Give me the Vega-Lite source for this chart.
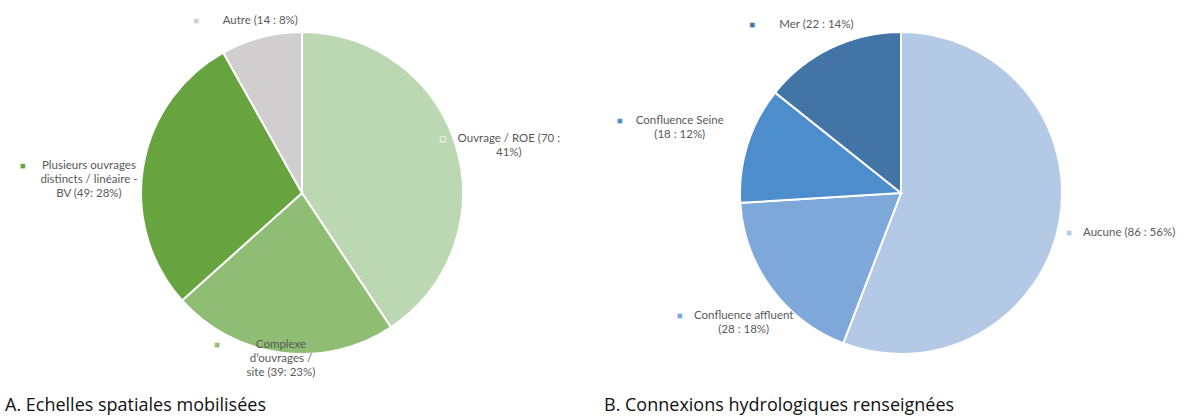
{
  "$schema": "https://vega.github.io/schema/vega-lite/v6.json",
  "background": "white",
  "padding": 5,
  "spacing": 5,
  "resolve": {"scale": {"color": "independent", "theta": "independent"}},
  "config": {
    "view": {"stroke": null},
    "title": {"font": "Open Sans", "fontSize": 18, "fontWeight": "normal", "color": "#111111", "orient": "bottom", "anchor": "start", "offset": 16},
    "text": {"font": "Lato", "fontSize": 11.5, "lineHeight": 14}
  },
  "datasets": {
    "a": [
      {"cat": "Ouvrage / ROE", "n": 70, "ord": 1, "label": "Ouvrage / ROE (70 :\n41%)"},
      {"cat": "Complexe d'ouvrages / site", "n": 39, "ord": 2, "label": "Complexe\nd’ouvrages /\nsite (39: 23%)"},
      {"cat": "Plusieurs ouvrages distincts / linéaire - BV", "n": 49, "ord": 3, "label": "Plusieurs ouvrages\ndistincts / linéaire -\nBV (49: 28%)"},
      {"cat": "Autre", "n": 14, "ord": 4, "label": "Autre (14 : 8%)"}
    ],
    "b": [
      {"cat": "Aucune", "n": 86, "ord": 1, "label": "Aucune (86 : 56%)"},
      {"cat": "Confluence affluent", "n": 28, "ord": 2, "label": "Confluence affluent\n(28 : 18%)"},
      {"cat": "Confluence Seine", "n": 18, "ord": 3, "label": "Confluence Seine\n(18 : 12%)"},
      {"cat": "Mer", "n": 22, "ord": 4, "label": "Mer (22 : 14%)"}
    ]
  },
  "hconcat": [
    {
      "width": 594,
      "height": 376,
      "data": {"name": "a"},
      "title": {"text": "A. Echelles spatiales mobilisées"},
      "encoding": {
        "theta": {"field": "n", "type": "quantitative", "stack": true},
        "order": {"field": "ord", "type": "quantitative"},
        "color": {
          "field": "cat",
          "type": "nominal",
          "scale": {
            "domain": ["Ouvrage / ROE", "Complexe d'ouvrages / site", "Plusieurs ouvrages distincts / linéaire - BV", "Autre"],
            "range": ["#bcd8b2", "#8fbd74", "#67a33f", "#d0cece"]
          },
          "legend": null
        }
      },
      "layer": [
        {"mark": {"type": "arc", "outerRadius": 161, "stroke": "white", "strokeWidth": 2}},
        {
          "mark": {"type": "text", "clip": true, "radius": 216, "dy": 8, "lineBreak": "\n", "align": "center", "baseline": "middle"},
          "encoding": {
            "text": {"condition": {"test": "datum.ord == 1 || datum.ord == 3", "field": "label"}, "value": ""},
            "color": {"value": "#595959"}
          }
        },
        {
          "mark": {"type": "text", "clip": true, "radius": 216, "dy": 8, "dx": -66, "text": "■", "font": "DejaVu Sans", "fontSize": 7, "stroke": "white", "strokeWidth": 0.6},
          "encoding": {
            "opacity": {"condition": {"test": "datum.ord == 1 || datum.ord == 3", "value": 1}, "value": 0}
          }
        },
        {
          "mark": {"type": "text", "clip": true, "radius": 165, "dy": -12, "lineBreak": "\n", "align": "center", "baseline": "middle"},
          "encoding": {
            "text": {"condition": {"test": "datum.ord == 2 || datum.ord == 4", "field": "label"}, "value": ""},
            "color": {"value": "#595959"}
          }
        },
        {
          "mark": {"type": "text", "clip": true, "radius": 165, "dy": -12, "dx": -64, "text": "■", "font": "DejaVu Sans", "fontSize": 7, "stroke": "white", "strokeWidth": 0.6},
          "encoding": {
            "opacity": {"condition": {"test": "datum.ord == 2 || datum.ord == 4", "value": 1}, "value": 0}
          }
        }
      ]
    },
    {
      "width": 594,
      "height": 376,
      "data": {"name": "b"},
      "title": {"text": "B. Connexions hydrologiques renseignées"},
      "encoding": {
        "theta": {"field": "n", "type": "quantitative", "stack": true},
        "order": {"field": "ord", "type": "quantitative"},
        "color": {
          "field": "cat",
          "type": "nominal",
          "scale": {
            "domain": ["Aucune", "Confluence affluent", "Confluence Seine", "Mer"],
            "range": ["#b4c9e6", "#7ea8da", "#4d8dcc", "#4275a5"]
          },
          "legend": null
        }
      },
      "layer": [
        {"mark": {"type": "arc", "outerRadius": 161, "stroke": "white", "strokeWidth": 2}},
        {
          "mark": {"type": "text", "clip": true, "radius": 232, "dy": -2, "lineBreak": "\n", "align": "center", "baseline": "middle"},
          "encoding": {
            "text": {"condition": {"test": "datum.ord == 1 || datum.ord == 3", "field": "label"}, "value": ""},
            "color": {"value": "#595959"}
          }
        },
        {
          "mark": {"type": "text", "clip": true, "radius": 232, "dy": -2, "dx": -60, "text": "■", "font": "DejaVu Sans", "fontSize": 7, "stroke": "white", "strokeWidth": 0.6},
          "encoding": {
            "opacity": {"condition": {"test": "datum.ord == 1 || datum.ord == 3", "value": 1}, "value": 0}
          }
        },
        {
          "mark": {"type": "text", "clip": true, "radius": 195, "dy": 8, "lineBreak": "\n", "align": "center", "baseline": "middle"},
          "encoding": {
            "text": {"condition": {"test": "datum.ord == 2 || datum.ord == 4", "field": "label"}, "value": ""},
            "color": {"value": "#595959"}
          }
        },
        {
          "mark": {"type": "text", "clip": true, "radius": 195, "dy": 8, "dx": -64, "text": "■", "font": "DejaVu Sans", "fontSize": 7, "stroke": "white", "strokeWidth": 0.6},
          "encoding": {
            "opacity": {"condition": {"test": "datum.ord == 2 || datum.ord == 4", "value": 1}, "value": 0}
          }
        }
      ]
    }
  ]
}
